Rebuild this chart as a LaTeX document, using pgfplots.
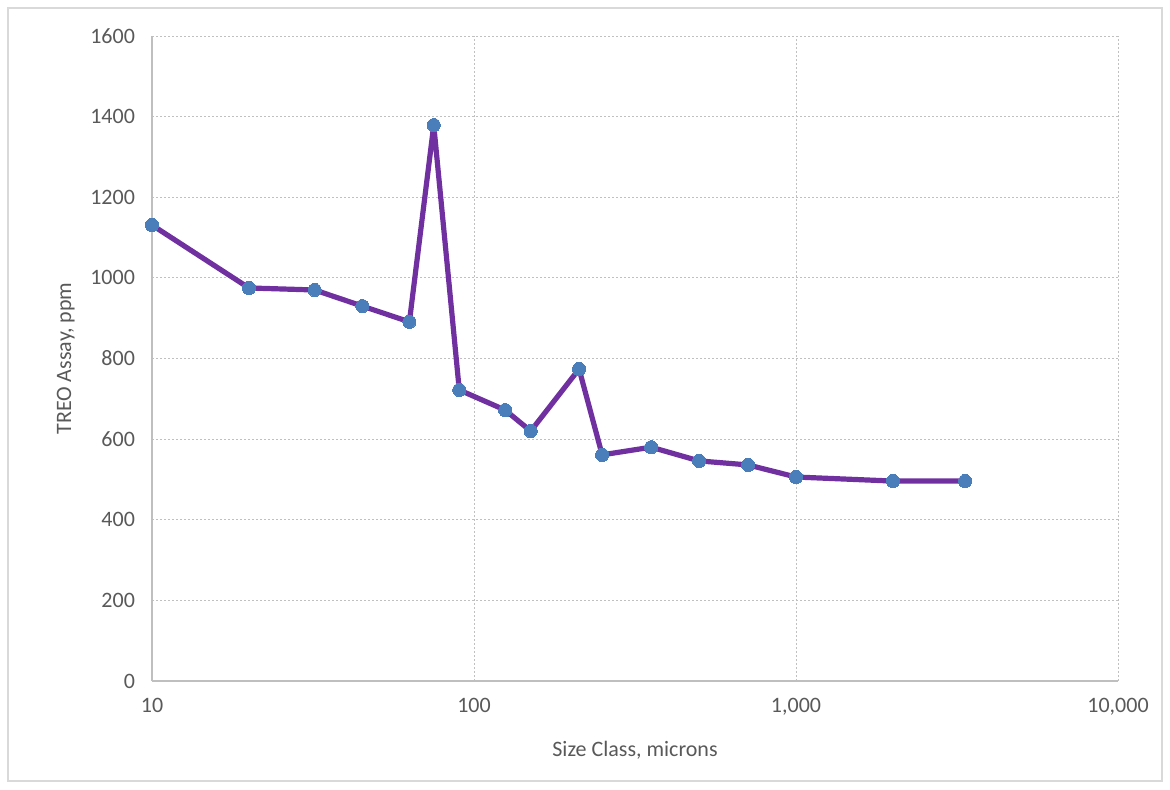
\documentclass[border=0pt]{standalone}
\usepackage{fontspec}
\setmainfont{Carlito}
\usepackage{pgfplots}
\pgfplotsset{compat=1.18}
\definecolor{linepurple}{HTML}{7030A0}
\definecolor{markblue}{HTML}{4A7EBB}
\definecolor{txtgrey}{HTML}{595959}
\definecolor{gridgrey}{HTML}{C0C0C0}
\definecolor{axgrey}{HTML}{BFBFBF}
\definecolor{framegrey}{HTML}{D9D9D9}
\begin{document}
\begin{tikzpicture}
\useasboundingbox (-76pt,-54pt) rectangle (509pt,340.5pt);
\draw[framegrey, line width=0.75pt] (-72pt,-50pt) rectangle (505pt,336.5pt);
\begin{axis}[
  at={(0pt,0pt)}, anchor=south west,
  scale only axis,
  width=483pt, height=322.5pt,
  xmode=log,
  xmin=10, xmax=10000,
  ymin=0, ymax=1600,
  xtick={10,100,1000,10000},
  xticklabels={10,100,{1,000},{10,000}},
  ytick={0,200,400,600,800,1000,1200,1400,1600},
  yticklabels={0,200,400,600,800,1000,1200,1400,1600},
  minor xtick={},
  axis x line*=bottom, axis y line*=left,
  axis line style={axgrey, line width=0.9pt, -},
  major tick length=0pt, minor tick length=0pt,
  grid=major,
  major grid style={gridgrey, dash pattern=on 1.2pt off 0.8pt, line width=0.5pt},
  tick label style={font=\fontsize{11}{13}\selectfont, text=txtgrey},
  xticklabel style={yshift=-5pt},
  yticklabel style={xshift=-5pt},
  xlabel={Size Class, microns},
  ylabel={TREO Assay, ppm},
  label style={font=\fontsize{11}{13}\selectfont, text=txtgrey},
  xlabel style={yshift=-6pt},
  ylabel style={yshift=1pt},
  clip=false,
]
\addplot[linepurple, line width=2.6pt, line join=round, mark=*, mark size=3.3pt,
  mark options={fill=markblue, draw=markblue, line width=0pt}] coordinates {
(10,1131) (20,975) (32,970) (45,930) (63,891) (75,1379) (90,722) (125,672)
(150,620) (212,774) (250,561) (355,580) (500,546) (710,536) (1000,506)
(2000,496) (3350,496)
};
\end{axis}
\end{tikzpicture}
\end{document}
